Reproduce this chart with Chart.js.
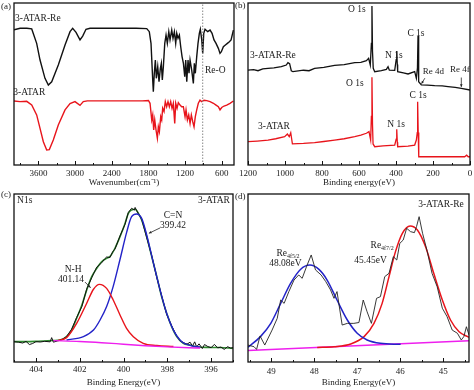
<!DOCTYPE html>
<html>
<head>
<meta charset="utf-8">
<script src="https://cdn.jsdelivr.net/npm/chart.js@4.4.0/dist/chart.umd.min.js"></script>
<style>
html, body { margin: 0; padding: 0; background: #fff; }
#wrap { position: relative; width: 474px; height: 390px; overflow: hidden; }
#wrap canvas { position: absolute; left: 0; top: 0; }
.tag { position: absolute; font: 9px "Liberation Serif", serif; color: #222; line-height: 10px; }
</style>
</head>
<body>
<div id="wrap">
  <canvas id="pa" width="474" height="390"></canvas>
  <canvas id="pb" width="474" height="390"></canvas>
  <canvas id="pc" width="474" height="390"></canvas>
  <canvas id="pd" width="474" height="390"></canvas>
  <div class="tag" style="left:1px;top:1px">(a)</div>
  <div class="tag" style="left:235px;top:0px">(b)</div>
  <div class="tag" style="left:1px;top:189px">(c)</div>
  <div class="tag" style="left:235px;top:191px">(d)</div>
</div>
<script>
// ---- data (y in arbitrary units 0-100) ----

// (a) FTIR, wavenumber vs transmittance
const ftirRe = [[4000,83.5],[3900,84.4],[3790,84.4],[3710,84],[3629,75.1],[3574,64.8],[3493,53.5],[3438,49.4],[3383,51.4],[3275,61.7],[3165,74.1],[3083,82.3],[3040,84.4],[2985,81.9],[2920,77.2],[2876,79.6],[2822,83.8],[2756,84.4],[2400,84.4],[2000,84.4],[1828,84.2],[1786,82.3],[1758,75.1],[1730,52.5],[1720,45.3],[1704,56.6],[1687,64.8],[1671,53.5],[1648,60.7],[1627,51.4],[1605,59.7],[1589,62.8],[1573,52.5],[1556,60.7],[1533,75.1],[1512,80.2],[1491,75.1],[1467,82.3],[1447,77.2],[1419,83.3],[1398,78.2],[1376,82.3],[1354,75.1],[1337,81.3],[1316,78.2],[1294,80.2],[1272,73],[1250,66.9],[1228,62.8],[1206,54.5],[1190,64.8],[1173,51.4],[1152,64.8],[1136,56.6],[1119,64.8],[1092,58.6],[1065,50.4],[1049,62.8],[1033,56.6],[1010,66.9],[989,75.1],[967,81.3],[951,83.8],[928,77.2],[912,68.9],[895,81.3],[874,83.8],[830,82.3],[792,83.3],[759,81.3],[727,77.2],[694,75.1],[656,72],[629,68.9],[607,69.9],[574,73],[541,74.1],[508,75.1],[476,76.1],[448,77.2],[410,83.3]];
const ftirAtar = [[4000,39.5],[3902,39.1],[3792,39.3],[3710,37],[3629,30.9],[3574,22.6],[3520,14.4],[3465,9.3],[3422,9.5],[3357,15.4],[3275,24.7],[3165,34],[3083,37.9],[3002,39.1],[2920,36.8],[2866,39.1],[2800,39.6],[2400,39.6],[1900,39.6],[1800,39.8],[1774,38.1],[1746,27.8],[1730,30.9],[1714,21.6],[1697,27.8],[1676,21.6],[1654,16.5],[1638,23.6],[1621,20.6],[1599,29.8],[1583,27.8],[1567,35],[1545,33],[1524,39.1],[1502,36],[1480,39.1],[1458,36],[1436,39.1],[1414,35],[1393,38.1],[1370,25.7],[1354,38.1],[1332,35],[1311,38.5],[1283,37],[1256,36],[1229,36],[1201,29.8],[1185,34],[1163,27.8],[1141,30.9],[1119,25.7],[1098,30.9],[1075,26.7],[1054,23.6],[1033,29.8],[1010,34],[984,38.1],[956,40],[928,39.1],[890,40],[846,39.7],[792,39.1],[737,38.1],[694,37],[656,36],[629,34],[601,35.5],[563,36.4],[519,37],[465,38.1],[410,39.5]];
const reOLine = [[912,0],[912,100]];
const aMajor = [3600, 3000, 2400, 1800, 1200, 600];
const aMinor = [3900, 3300, 2700, 2100, 1500, 900];

// (b) XPS survey
const surveyRe = [[1200,58.6],[1170,58.9],[1146,58.2],[1120,59.3],[1092,59.7],[1060,59.9],[1020,60.7],[993,61.7],[984,63.2],[975,62.6],[966,58.2],[957,57.6],[900,58.5],[870,58.2],[840,59.7],[790,60.2],[732,61.5],[680,62],[623,63.2],[590,63.4],[560,64.4],[548,65.8],[539,61.7],[533,75],[530,98.1],[527,70],[523,59.7],[515,57.6],[479,58.2],[452,59],[443,60.7],[436,58.5],[407,58.4],[399,65],[396,70.4],[393,62],[391,57.6],[360,56.8],[335,56.2],[299,57.6],[290,53.5],[284,60],[281,79.6],[278,60],[277,51.4],[263,49.4],[230,49.3],[191,49],[150,48.8],[119,48.4],[80,47.9],[47,47.3],[0,46.3]];
const surveyAtar = [[1200,14.4],[1150,14.8],[1092,15.4],[1050,16.2],[1002,17.5],[987,19.1],[977,17.5],[969,19.9],[960,13],[900,13.3],[840,13.8],[790,14.5],[732,15.4],[680,16.2],[623,17.5],[590,18.4],[560,19.6],[546,20.6],[537,15.4],[533,30],[530,54.1],[527,25],[524,13],[515,11.3],[470,11.8],[407,12.3],[399,16],[396,22],[393,14],[391,11.3],[335,11.6],[299,12.3],[290,15.4],[285,20],[283,39.1],[280,20],[277,5.1],[200,5.1],[119,5.1],[29,5.1],[18,6.1],[10,5.1],[0,5.1]];
const bMajor = [1200, 1000, 800, 600, 400, 200, 0];
const bMinor = [1100, 900, 700, 500, 300, 100];

// (c) N1s high resolution
const n1sRaw = [[405,12.1],[404.8,11.8],[404.6,11.3],[404.45,12.3],[404.3,10.4],[404.15,11],[404,12.1],[403.8,11.9],[403.6,12.3],[403.35,12],[403.28,14.5],[403.2,11.8],[403,12.6],[402.8,13.4],[402.6,15.1],[402.37,19.5],[402.14,26.5],[401.9,33],[401.68,43.5],[401.45,50.2],[401.22,56.5],[401,59],[400.85,61.5],[400.77,62.5],[400.62,62.2],[400.5,65.5],[400.39,67.2],[400.16,75],[399.93,82],[399.78,89],[399.63,91.5],[399.5,90.4],[399.47,92],[399.32,88.2],[399.17,85],[398.94,74],[398.71,63.2],[398.48,50.3],[398.26,39.5],[398.03,28.4],[397.8,21.5],[397.57,15.5],[397.4,12.5],[397.27,11.6],[397.1,10.6],[396.96,11.8],[396.85,9.5],[396.75,12],[396.66,9],[396.55,10.8],[396.4,8],[396.3,10.4],[396.15,9.2],[396,8.5],[395.85,10.5],[395.7,8.4],[395.55,8.9],[395.4,7.5],[395.25,9.1],[395.1,8.3],[395,8.6]];
const n1sFit = [[405,12.1],[404,12.3],[403.2,12.8],[402.9,13.1],[402.6,15.1],[402.37,19],[402.14,26],[401.9,33.9],[401.68,42.9],[401.45,50.8],[401.22,55.8],[401,59.7],[400.77,61.7],[400.62,62.7],[400.39,67.7],[400.16,74.6],[399.93,82.5],[399.78,88.5],[399.63,90.5],[399.47,90.9],[399.32,88.5],[399.17,84.5],[398.94,74.6],[398.71,62.7],[398.48,50.8],[398.26,38.9],[398.03,29],[397.8,21],[397.57,15.1],[397.27,11.1],[396.96,10.1],[396.66,9.1],[396.2,8.7],[395.6,8.6],[395,8.1]];
const n1sCN = [[402.6,13.1],[401.83,15.1],[401.37,19],[401.07,25],[400.77,33],[400.47,45],[400.16,61],[399.86,77],[399.63,86.5],[399.4,88.1],[399.17,85.5],[398.94,75.6],[398.63,58.7],[398.33,42.9],[398.03,29],[397.72,19],[397.34,12.1],[396.89,9.6],[396.5,8.9]];
const n1sNH = [[403,12.7],[402.6,14.5],[402.14,23],[401.68,35],[401.37,43.3],[401.1,46.2],[400.77,43.8],[400.47,36.9],[400.16,28],[399.86,20],[399.55,15],[399.1,11.1],[398.48,9.8],[397.72,9.2]];
const n1sBase = [[403.2,12.7],[402,12.2],[401,11.5],[400,10.6],[399,9.7],[398,9],[397,8.5],[396.5,8.3]];
const cMajor = [404, 402, 400, 398, 396];
const cMinor = [405, 403, 401, 399, 397, 395];

// (d) Re4f high resolution
const re4fRaw = [[49.54,10.1],[49.4,9.1],[49.34,7.5],[49.26,15.5],[49.15,10.1],[48.98,19],[48.86,26],[48.78,36.9],[48.7,34.9],[48.59,41.9],[48.47,48.8],[48.36,51.8],[48.28,49.8],[48.18,56.7],[48.07,63.7],[47.97,54.8],[47.84,51.8],[47.73,47.8],[47.62,42.9],[47.54,37.9],[47.47,41.9],[47.35,22],[47.23,23],[47.08,23],[46.96,23.5],[46.86,36.9],[46.77,29.9],[46.67,23],[46.55,37.9],[46.46,38.9],[46.36,50.8],[46.26,52.8],[46.16,62.7],[46.08,60.7],[46.01,70.6],[45.93,72.6],[45.85,79.6],[45.76,77.6],[45.67,77],[45.62,80.6],[45.56,86.5],[45.48,76.6],[45.37,65.7],[45.26,52.8],[45.14,44.8],[45.02,32],[44.91,27],[44.79,19],[44.67,17.1],[44.58,13.1],[44.52,15.1],[44.46,21],[44.4,16.1]];
const re4f52 = [[49.54,8.8],[49.25,15.1],[49.01,23],[48.78,34.9],[48.55,46.8],[48.32,55.1],[48.1,57.7],[47.89,55.1],[47.7,48.8],[47.47,36.9],[47.23,25],[47,17.1],[46.77,13.1],[46.46,11.1],[45.99,10.5]];
const re4f72 = [[47.93,8.6],[47.54,9.1],[47.15,10.7],[46.84,15.1],[46.61,23],[46.42,34.9],[46.26,50.8],[46.11,65.7],[45.95,76.6],[45.77,81],[45.6,78.6],[45.41,68.6],[45.22,52.8],[45.02,36.9],[44.83,25],[44.63,18],[44.4,14.7]];
const re4fBase = [[49.54,6.8],[44.4,12.7]];
const dMajor = [49, 48, 47, 46, 45];
const dMinor = [49.5, 48.5, 47.5, 46.5, 45.5, 44.5];

// ---- drawing ----
const SERIF = '"Liberation Serif", "Times New Roman", serif';
const INK = '#222';

// closed frame + short inward ticks, like the original plots
const frameTicks = {
  id: 'frameTicks',
  afterDatasetsDraw(chart) {
    const { ctx, chartArea: a, scales: { x } } = chart;
    ctx.save();
    ctx.strokeStyle = '#111';
    ctx.lineWidth = 1;
    x.ticks.forEach(t => {
      const px = Math.round(x.getPixelForValue(t.value)) + 0.5;
      const len = t.label ? 4 : 2;
      ctx.beginPath();
      ctx.moveTo(px, a.bottom);
      ctx.lineTo(px, a.bottom - len);
      ctx.stroke();
    });
    ctx.lineWidth = 1.3;
    ctx.strokeRect(a.left, a.top, a.right - a.left, a.bottom - a.top);
    ctx.restore();
  }
};

// text labels and little arrows placed in data units
const notes = {
  id: 'notes',
  afterDraw(chart, args, opts) {
    const { ctx, scales: { x, y } } = chart;
    ctx.save();
    ctx.fillStyle = INK;
    ctx.strokeStyle = INK;
    ctx.textBaseline = 'middle';
    (opts.texts || []).forEach(n => {
      let px = x.getPixelForValue(n.x);
      const py = y.getPixelForValue(n.y);
      const size = n.size || 9.5;
      ctx.font = size + 'px ' + SERIF;
      const w1 = ctx.measureText(n.t).width;
      let w2 = 0;
      if (n.sub) {
        ctx.font = '6px ' + SERIF;
        w2 = ctx.measureText(n.sub).width;
      }
      const w = w1 + w2;
      if (n.align === 'center') px -= w / 2;
      else if (n.align === 'right') px -= w;
      ctx.textAlign = 'left';
      ctx.font = size + 'px ' + SERIF;
      ctx.fillText(n.t, px, py);
      if (n.sub) {
        ctx.font = '6px ' + SERIF;
        ctx.fillText(n.sub, px + w1, py + 3);
      }
    });
    (opts.arrows || []).forEach(ar => {
      const x1 = x.getPixelForValue(ar.x1), y1 = y.getPixelForValue(ar.y1);
      const x2 = x.getPixelForValue(ar.x2), y2 = y.getPixelForValue(ar.y2);
      ctx.lineWidth = 0.8;
      ctx.beginPath();
      ctx.moveTo(x1, y1);
      ctx.lineTo(x2, y2);
      ctx.stroke();
      const ang = Math.atan2(y2 - y1, x2 - x1);
      ctx.beginPath();
      ctx.moveTo(x2, y2);
      ctx.lineTo(x2 - 3 * Math.cos(ang - 0.45), y2 - 3 * Math.sin(ang - 0.45));
      ctx.lineTo(x2 - 3 * Math.cos(ang + 0.45), y2 - 3 * Math.sin(ang + 0.45));
      ctx.closePath();
      ctx.fill();
    });
    ctx.restore();
  }
};

function line(pairs, color, width, extra) {
  return Object.assign({
    data: pairs.map(p => ({ x: p[0], y: p[1] })),
    borderColor: color,
    borderWidth: width,
    pointRadius: 0,
    fill: false,
    tension: 0
  }, extra || {});
}

function makePanel(id, box, ax, datasets, noteOpts) {
  const tickVals = ax.major.concat(ax.minor).sort((p, q) => p - q);
  new Chart(document.getElementById(id), {
    type: 'line',
    data: { datasets: datasets },
    options: {
      responsive: false,
      animation: false,
      layout: { padding: { left: box.l, top: box.t, right: 474 - box.r, bottom: 390 - box.b - box.axisH } },
      plugins: { legend: { display: false }, tooltip: { enabled: false }, notes: noteOpts },
      scales: {
        x: {
          type: 'linear',
          reverse: true,
          min: ax.min,
          max: ax.max,
          afterBuildTicks: s => { s.ticks = tickVals.map(v => ({ value: v })); },
          afterFit: s => { s.height = box.axisH; },
          grid: { display: false, drawTicks: false },
          border: { display: false },
          ticks: {
            autoSkip: false,
            maxRotation: 0,
            padding: box.pad,
            color: INK,
            font: { family: SERIF, size: 9 },
            callback: v => ax.major.indexOf(v) >= 0 ? String(v) : ''
          },
          title: { display: true, text: ax.title, color: INK, font: { family: SERIF, size: 9 }, padding: { top: 0, bottom: 0 } }
        },
        y: { display: false, min: 0, max: 100 }
      }
    },
    plugins: [frameTicks, notes]
  });
}

const RED = '#e8141b', BLACK = '#111', BLUE = '#2323c8', GREEN = '#2e8b2e', MAG = '#ee1fee';

makePanel('pa', { l: 14, r: 234, t: 3, b: 165, axisH: 23, pad: 3 },
  { min: 400, max: 4000, major: aMajor, minor: aMinor, title: 'Wavenumber(cm\u207B\u00B9)' },
  [
    line(reOLine, '#888', 1, { borderDash: [1.5, 1.5] }),
    line(ftirRe, BLACK, 1.4),
    line(ftirAtar, RED, 1.4)
  ],
  { texts: [
      { t: '3-ATAR-Re', x: 3984, y: 90.7 },
      { t: '3-ATAR', x: 4012, y: 45 },
      { t: 'Re-O', x: 874, y: 58.6 }
    ] });

makePanel('pb', { l: 248, r: 470, t: 3, b: 165, axisH: 23, pad: 3 },
  { min: 0, max: 1200, major: bMajor, minor: bMinor, title: 'Binding energy(eV)' },
  [
    line(surveyRe, BLACK, 1.3),
    line(surveyAtar, RED, 1.3)
  ],
  { texts: [
      { t: 'O 1s', x: 611, y: 95.7, align: 'center' },
      { t: 'N 1s', x: 411, y: 67.9, align: 'center' },
      { t: 'C 1s', x: 292, y: 81.3, align: 'center' },
      { t: '3-ATAR-Re', x: 1189, y: 67.3 },
      { t: 'Re 4d', x: 255, y: 57.6, size: 9 },
      { t: 'Re 4f', x: 108, y: 58.6, size: 9 },
      { t: 'O 1s', x: 622, y: 50.6, align: 'center' },
      { t: 'C 1s', x: 281, y: 43.2, align: 'center' },
      { t: 'N 1s', x: 400, y: 24.7, align: 'center' },
      { t: '3-ATAR', x: 1146, y: 23.5 }
    ],
    arrows: [
      { x1: 244, y1: 53.6, x2: 262, y2: 50.2 },
      { x1: 47, y1: 54, x2: 47, y2: 48.2 }
    ] });

makePanel('pc', { l: 14, r: 233, t: 194, b: 362, axisH: 26, pad: 2 },
  { min: 395, max: 405, major: cMajor, minor: cMinor, title: 'Binding Energy(eV)' },
  [
    line(n1sBase, MAG, 1.4, { cubicInterpolationMode: 'monotone' }),
    line(n1sNH, RED, 1.4, { cubicInterpolationMode: 'monotone' }),
    line(n1sCN, BLUE, 1.4, { cubicInterpolationMode: 'monotone' }),
    line(n1sRaw, BLACK, 1),
    line(n1sFit, GREEN, 1.6, { cubicInterpolationMode: 'monotone' })
  ],
  { texts: [
      { t: 'N1s', x: 404.86, y: 96.4 },
      { t: '3-ATAR', x: 395.14, y: 96.4, align: 'right' },
      { t: 'C=N', x: 397.74, y: 87.5, align: 'center' },
      { t: '399.42', x: 397.74, y: 81, align: 'center' },
      { t: 'N-H', x: 402.3, y: 54.8, align: 'center' },
      { t: '401.14', x: 402.4, y: 49.4, align: 'center' }
    ],
    arrows: [
      { x1: 398.33, y1: 79.8, x2: 398.84, y2: 76.6 },
      { x1: 401.76, y1: 47.6, x2: 401.5, y2: 44.2 }
    ] });

makePanel('pd', { l: 248, r: 469, t: 194, b: 362, axisH: 26, pad: 4 },
  { min: 44.4, max: 49.54, major: dMajor, minor: dMinor, title: 'Binding Energy(eV)' },
  [
    line(re4fRaw, '#222', 0.9),
    line(re4f52, BLUE, 1.5, { cubicInterpolationMode: 'monotone' }),
    line(re4f72, RED, 1.5, { cubicInterpolationMode: 'monotone' }),
    line(re4fBase, MAG, 1.5)
  ],
  { texts: [
      { t: '3-ATAR-Re', x: 44.52, y: 93.5, align: 'right' },
      { t: 'Re', sub: '4f5/2', x: 48.61, y: 64.7, align: 'center' },
      { t: '48.08eV', x: 48.67, y: 58.7, align: 'center' },
      { t: 'Re', sub: '4f7/2', x: 46.42, y: 69.6, align: 'center' },
      { t: '45.45eV', x: 46.69, y: 60.7, align: 'center' }
    ] });
</script>
</body>
</html>
